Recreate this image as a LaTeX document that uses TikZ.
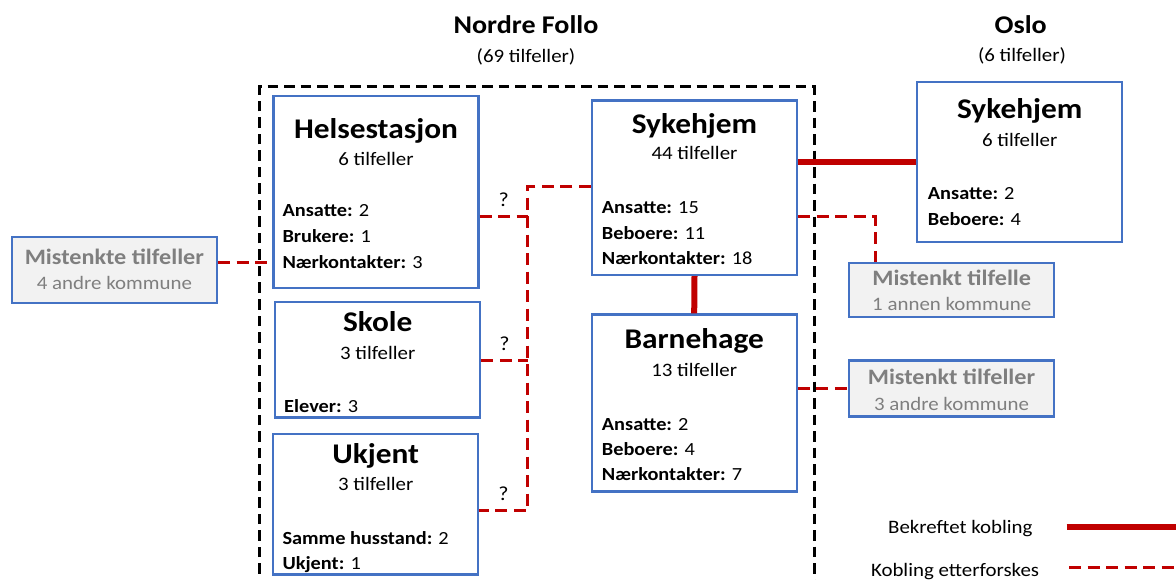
\documentclass[tikz,border=0pt]{standalone}
\usepackage{fontspec}
\setmainfont[FakeStretch=1.1]{Carlito}
\usepackage{tikz}

\definecolor{boxblue}{HTML}{4472C4}
\definecolor{linkred}{HTML}{C00000}
\definecolor{greyfill}{HTML}{F2F2F2}
\definecolor{greytext}{HTML}{7F7F7F}

\tikzset{
  casebox/.style={draw=boxblue, line width=2.4pt, fill=white, inner sep=0pt, minimum width=205pt},
  guessbox/.style={casebox, fill=greyfill},
  place/.style={font=\fontsize{25.5}{28}\selectfont\bfseries, inner sep=0pt, anchor=base},
  placecount/.style={font=\fontsize{19}{22}\selectfont, inner sep=0pt, anchor=base},
  boxtitle/.style={font=\fontsize{28.5}{32}\selectfont\bfseries, inner sep=0pt, anchor=base},
  boxcount/.style={font=\fontsize{19}{22}\selectfont, inner sep=0pt, anchor=base},
  boxline/.style={font=\fontsize{18.5}{22}\selectfont, inner sep=0pt, anchor=base west},
  guesstitle/.style={font=\fontsize{22}{24}\selectfont\bfseries, text=greytext, inner sep=0pt, anchor=base},
  guesssub/.style={font=\fontsize{19}{22}\selectfont, text=greytext, inner sep=0pt, anchor=base},
  legendtext/.style={font=\fontsize{19}{22}\selectfont, inner sep=0pt, anchor=base east},
  qmark/.style={font=\fontsize{20}{22}\selectfont, inner sep=0pt},
  confirmed/.style={draw=linkred, line width=6pt},
  probable/.style={draw=linkred, line width=3pt, dash pattern=on 12pt off 6.5pt},
  municipality/.style={draw=black, line width=3pt, dash pattern=on 10.5pt off 6pt}
}

\begin{document}
\begin{tikzpicture}[x=1pt,y=-1pt]
\useasboundingbox (0,0) rectangle (1176,580);

% kommuner
\draw (526,33.3) node[place] (follo) {Nordre Follo} ;
\draw (526,62.5) node[placecount] (follocount) {(69 tilfeller)} ;
\draw (1020.7,33.3) node[place] (oslo) {Oslo} ;
\draw (1022,61.7) node[placecount] (oslocount) {(6 tilfeller)} ;

\draw[municipality] (259,590) -- (259,87) -- (814.3,87) -- (814.3,590) ;

% bokser
\draw (376,192.2) node[casebox, minimum height=191.9pt] (helse) {} ;
\draw (377.7,359.8) node[casebox, minimum height=115.1pt] (skole) {} ;
\draw (375.7,504.4) node[casebox, minimum height=140.3pt] (ukjent) {} ;
\draw (694.5,187.7) node[casebox, minimum height=174.3pt] (sykfollo) {} ;
\draw (694.2,402.9) node[casebox, minimum height=176.8pt] (barne) {} ;
\draw (1019.7,162) node[casebox, minimum height=160.2pt] (sykoslo) {} ;

\draw (114.4,270) node[guessbox, minimum height=66.2pt] (guessleft) {} ;
\draw (951.7,290) node[guessbox, minimum height=54.2pt] (guessone) {} ;
\draw (951.5,388.5) node[guessbox, minimum height=56pt] (guessthree) {} ;

% Helsestasjon
\draw (376,138.3) node[boxtitle] (helsetitle) {Helsestasjon} ;
\draw (376,166) node[boxcount] (helsecount) {6 tilfeller} ;
\draw (282.3,216.7) node[boxline] (helsea) {\textbf{Ansatte:} 2} ;
\draw (282.3,242.7) node[boxline] (helseb) {\textbf{Brukere:} 1} ;
\draw (282.3,268.3) node[boxline] (helsec) {\textbf{Nærkontakter:} 3} ;

% Skole
\draw (377.7,331.7) node[boxtitle] (skoletitle) {Skole} ;
\draw (377.7,359) node[boxcount] (skolecount) {3 tilfeller} ;
\draw (284,412.7) node[boxline] (skolea) {\textbf{Elever:} 3} ;

% Ukjent
\draw (375.7,463.3) node[boxtitle] (ukjenttitle) {Ukjent} ;
\draw (375.7,490.7) node[boxcount] (ukjentcount) {3 tilfeller} ;
\draw (282.3,544.3) node[boxline] (ukjenta) {\textbf{Samme husstand:} 2} ;
\draw (282.3,569.3) node[boxline] (ukjentb) {\textbf{Ukjent:} 1} ;

% Sykehjem Nordre Follo
\draw (694.5,133.3) node[boxtitle] (sykfollotitle) {Sykehjem} ;
\draw (694.5,160) node[boxcount] (sykfollocount) {44 tilfeller} ;
\draw (601.7,213.3) node[boxline] (sykfolloa) {\textbf{Ansatte:} 15} ;
\draw (601.7,239.3) node[boxline] (sykfollob) {\textbf{Beboere:} 11} ;
\draw (601.7,264.3) node[boxline] (sykfolloc) {\textbf{Nærkontakter:} 18} ;

% Barnehage
\draw (694.2,348.3) node[boxtitle] (barnetitle) {Barnehage} ;
\draw (694.2,376.7) node[boxcount] (barnecount) {13 tilfeller} ;
\draw (601.7,430) node[boxline] (barnea) {\textbf{Ansatte:} 2} ;
\draw (601.7,455.7) node[boxline] (barneb) {\textbf{Beboere:} 4} ;
\draw (601.7,480.7) node[boxline] (barnec) {\textbf{Nærkontakter:} 7} ;

% Sykehjem Oslo
\draw (1019.7,119) node[boxtitle] (sykoslotitle) {Sykehjem} ;
\draw (1019.7,146.7) node[boxcount] (sykoslocount) {6 tilfeller} ;
\draw (927.7,200) node[boxline] (sykosloa) {\textbf{Ansatte:} 2} ;
\draw (927.7,226) node[boxline] (sykoslob) {\textbf{Beboere:} 4} ;

% mistenkte
\draw (114.4,265) node[guesstitle] (guesslefttitle) {Mistenkte tilfeller} ;
\draw (114.4,290) node[guesssub] (guessleftsub) {4 andre kommune} ;
\draw (951.7,286) node[guesstitle] (guessonetitle) {Mistenkt tilfelle} ;
\draw (951.7,310.7) node[guesssub] (guessonesub) {1 annen kommune} ;
\draw (951.5,384) node[guesstitle] (guessthreetitle) {Mistenkt tilfeller} ;
\draw (951.5,410) node[guesssub] (guessthreesub) {3 andre kommune} ;

% koblinger
\coordinate (hubtop) at (527.7,186.7) ;
\coordinate (hubhelse) at (527.7,216.7) ;
\coordinate (hubskole) at (527.7,360) ;
\coordinate (hubukjent) at (527.7,510) ;
\coordinate (bend) at (875,216.7) ;

\draw[confirmed] (sykfollo.south) to (barne.north) ;
\draw[confirmed] (sykfollo.east |- sykoslo.west) to (sykoslo.west) ;

\draw[probable] (sykfollo.west |- hubtop) -- (hubtop) -- (hubukjent) -- (ukjent.east |- hubukjent) ;
\draw[probable] (helse.east |- hubhelse) -- (hubhelse) node[qmark, midway, above=9pt] {?} ;
\draw[probable] (skole.east |- hubskole) -- (hubskole) node[qmark, midway, above=8pt] {?} ;
\path (ukjent.east |- hubukjent) -- (hubukjent) node[qmark, midway, above=9pt] {?} ;
\draw[probable] ([yshift=7.3pt]guessleft.east) -- ([yshift=7.3pt]guessleft.east -| helse.west) ;
\draw[probable] (sykfollo.east |- bend) -- (bend) -- (bend |- guessone.north) ;
\draw[probable] (barne.east |- guessthree.west) -- (guessthree.west) ;

% forklaring
\draw (1032.7,533.3) node[legendtext] (legendsolid) {Bekreftet kobling} ;
\draw (1039.3,576.7) node[legendtext] (legenddash) {Kobling etterforskes} ;
\coordinate (solidend) at (1180,526.7) ;
\coordinate (dashend) at (1180,567.3) ;
\draw[confirmed] (1066.7,526.7) -- (solidend) ;
\draw[probable] (1069,567.3) -- (dashend) ;
\end{tikzpicture}
\end{document}
